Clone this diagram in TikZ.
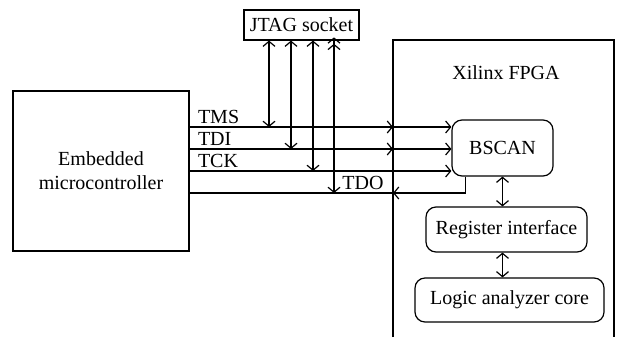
\documentclass[tikz,border=0pt]{standalone}
\usepackage{fontspec}
\setmainfont{Liberation Serif}
\usetikzlibrary{arrows.meta, positioning}
\tikzstyle{block}  = [rectangle, draw=black, line width=0.6pt, text centered, align=center, inner sep=0pt]
\tikzstyle{unit}   = [block, rounded corners=5pt]
\tikzstyle{sig}    = [inner sep=0pt, anchor=south west]
\tikzstyle{arrow}  = [line width=0.6pt, -{Straight Barb[length=2.5pt,width=6pt]}]
\tikzstyle{dbl}    = [line width=0.6pt, {Straight Barb[length=2.5pt,width=6pt]}-{Straight Barb[length=2.5pt,width=6pt]}]
\tikzstyle{dbltwo} = [line width=0.6pt, {Straight Barb[length=2.5pt,width=6pt,sep=-1.6pt] Straight Barb[length=2.5pt,width=6pt]}-{Straight Barb[length=2.5pt,width=6pt]}]

\begin{document}
\begin{tikzpicture}[x=0.5pt, y=-0.5pt, font=\fontsize{10}{12}\selectfont]
    \useasboundingbox (0,0) rectangle (619,337);

    % boxes
    \node (micro) [block, minimum width=88pt, minimum height=80pt] at (101,171) {Embedded\\microcontroller};
    \node (jtag)  [block, minimum width=57.5pt, minimum height=15pt] at (301.5,25) {JTAG socket};
    \draw [line width=0.6pt] (393,337) -- (393,40) -- (614,40) -- (614,337);
    \node (fpga)  at (506,73) {Xilinx FPGA};
    \node (bscan) [unit, minimum width=50.5pt, minimum height=28pt] at (502.5,148) {BSCAN};
    \node (regif) [unit, minimum width=80.5pt, minimum height=22.5pt] at (506.5,229.5) {Register interface};
    \node (logic) [unit, minimum width=94.5pt, minimum height=22pt] at (509.5,300) {Logic analyzer core};

    % points on the FPGA border and under the socket
    \coordinate (tmsb) at (393,127);
    \coordinate (tdib) at (393,149);
    \coordinate (tckb) at (393,171);
    \coordinate (tdob) at (393,193);
    \coordinate (tmsj) at (269,127);
    \coordinate (tdij) at (291,149);
    \coordinate (tckj) at (313,171);
    \coordinate (tdoj) at (334,193);
    \coordinate (tdoout) at ([xshift=7pt]bscan.south west);

    % signal labels
    \node (tmslbl) [sig] at ([xshift=4pt,yshift=1.5pt]micro.east |- tmsb) {TMS};
    \node (tdilbl) [sig] at ([xshift=4pt,yshift=1.5pt]micro.east |- tdib) {TDI};
    \node (tcklbl) [sig] at ([xshift=4pt,yshift=1.5pt]micro.east |- tckb) {TCK};
    \node (tdolbl) [sig] at ([xshift=4pt,yshift=1.5pt]tdoj) {TDO};

    % microcontroller to BSCAN
    \draw [arrow] (micro.east |- tmsb) -- (tmsb);
    \draw [arrow] (tmsb) -- (bscan.west |- tmsb);
    \draw [arrow] (micro.east |- tdib) -- (tdib);
    \draw [arrow] (tdib) -- (bscan.west |- tdib);
    \draw [arrow] (micro.east |- tckb) -- (bscan.west |- tckb);
    \draw [arrow] (tdoout) |- (tdob);
    \draw [line width=0.6pt] (tdob) -- (micro.east |- tdob);

    % socket taps
    \draw [dbl] (jtag.south -| tmsj) -- (tmsj);
    \draw [dbl] (jtag.south -| tdij) -- (tdij);
    \draw [dbl] (jtag.south -| tckj) -- (tckj);
    \draw [dbltwo] (jtag.south -| tdoj) -- (tdoj);

    % inside the FPGA
    \draw [dbl] (bscan.south) -- (bscan.south |- regif.north);
    \draw [dbl] (bscan.south |- regif.south) -- (bscan.south |- logic.north);

\end{tikzpicture}
\end{document}
